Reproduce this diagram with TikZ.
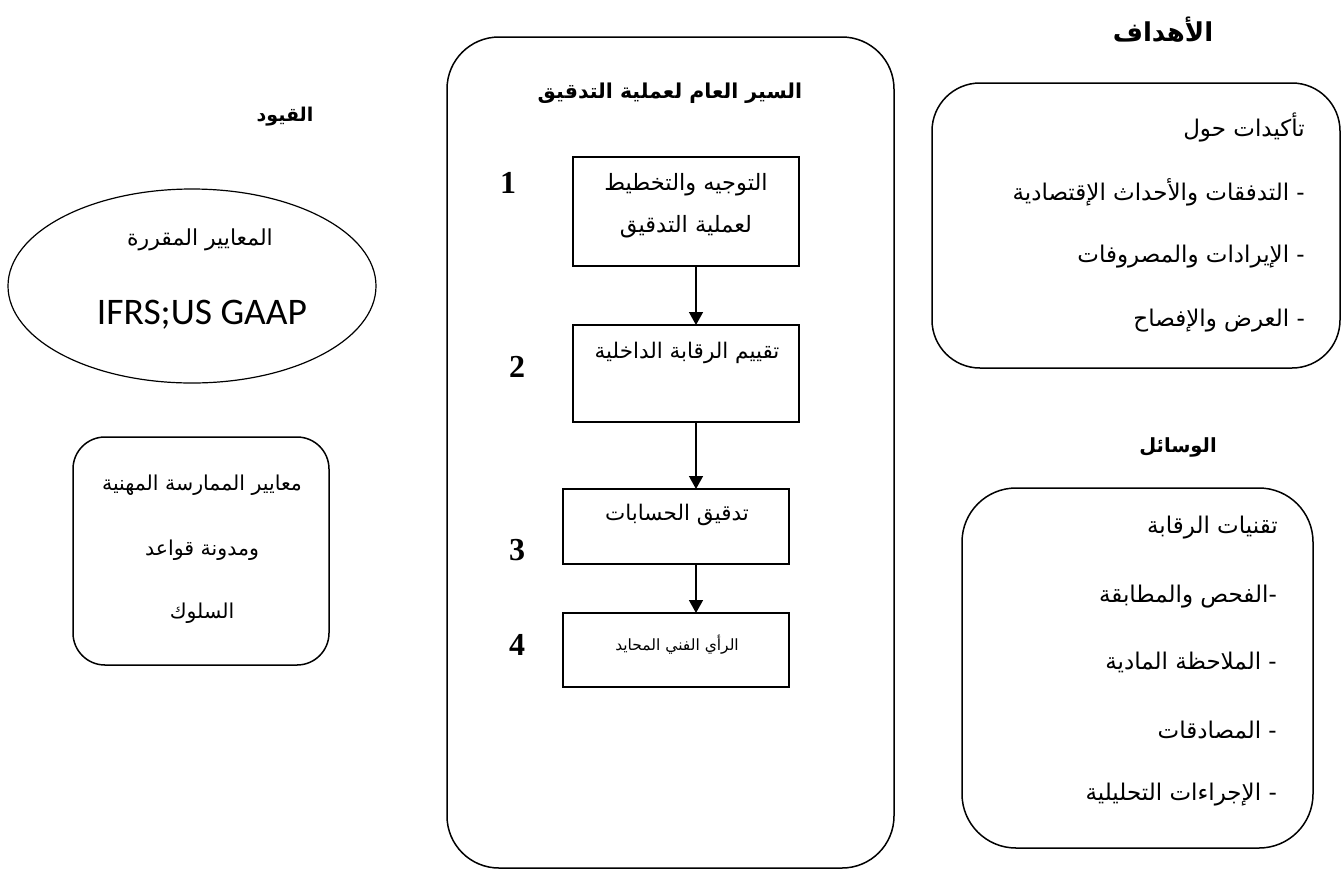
\documentclass[tikz,border=0pt]{standalone}
\usepackage{fontspec}
\setmainfont{Liberation Serif}
\newfontfamily\arabicfont[Script=Arabic]{DejaVu Sans}
\newfontfamily\calfont{Carlito}
\TeXXeTstate=1
\usetikzlibrary{arrows.meta,shapes.geometric}
\newcommand\AR[1]{{\arabicfont\beginR #1\endR}}
\newcommand\fsz[1]{\fontsize{#1}{#1}\selectfont}

\tikzset{
  x=1pt, y=-1pt,
  frame/.style={draw, line width=1.5pt, inner sep=0pt, outer sep=0pt},
  stepbox/.style={draw, line width=1.6pt, inner sep=0pt, outer sep=0pt, minimum width=226pt},
  flow/.style={line width=1.5pt, -{Triangle[width=14pt,length=13pt]}},
  head/.style={inner sep=0pt, font=\bfseries\fsz{#1}},
  body/.style={inner sep=0pt, font=\fsz{#1}},
  body/.default=23,
  num/.style={inner sep=0pt, font=\bfseries\fsz{32}},
}

\begin{document}
\begin{tikzpicture}
\useasboundingbox (0,0) rectangle (1344,871);

% central column: the audit process
\node[frame, rounded corners=52pt, minimum width=447pt, minimum height=831pt] (main) at (670.5,452.5) {};
\node[head=20.5] (mainT) at (670,93) {\AR{السير العام لعملية التدقيق}};

\node[stepbox, minimum height=109pt] (s1) at (686,211.5) {};
\node[stepbox, minimum height=97pt]  (s2) at (686,373.5) {};
\node[stepbox, minimum height=75pt]  (s3) at (676,526.5) {};
\node[stepbox, minimum height=74pt]  (s4) at (676,650) {};

\node[body=22.5] (s1a) at (686,185) {\AR{التوجيه والتخطيط}};
\node[body=22.5] (s1b) at (686,227) {\AR{لعملية التدقيق}};
\node[body=21.5] (s2a) at (687,353) {\AR{تقييم الرقابة الداخلية}};
\node[body=21.5] (s3a) at (677,515) {\AR{تدقيق الحسابات}};
\node[body=15.5] (s4a) at (677,645) {\AR{الرأي الفني المحايد}};

\node[num] (n1) at (508,183) {1};
\node[num] (n2) at (517,367) {2};
\node[num] (n3) at (517,550) {3};
\node[num] (n4) at (517,645) {4};

\coordinate (ax) at (696,0);
\draw[flow] (s1.south -| ax) -- (s2.north -| ax);
\draw[flow] (s2.south -| ax) -- (s3.north -| ax);
\draw[flow] (s3.south -| ax) -- (s4.north -| ax);

% right column: objectives and means
\node[head=26] (objT) at (1163,30) {\AR{الأهداف}};
\node[frame, rounded corners=48pt, minimum width=408pt, minimum height=285pt] (obj) at (1136,225.5) {};
\node[body, anchor=east] (o1) at (1305,127) {\AR{تأكيدات حول}};
\node[body, anchor=east] (o2) at (1305,192) {\AR{- التدفقات والأحداث الإقتصادية}};
\node[body, anchor=east] (o3) at (1305,257) {\AR{- الإيرادات والمصروفات}};
\node[body, anchor=east] (o4) at (1305,321) {\AR{- العرض والإفصاح}};

\node[head=19.5] (meaT) at (1178,447) {\AR{الوسائل}};
\node[frame, rounded corners=54pt, minimum width=351pt, minimum height=360pt] (mea) at (1137.5,668) {};
\node[body, anchor=east] (m1) at (1278,528) {\AR{تقنيات الرقابة}};
\node[body, anchor=east] (m2) at (1277,597) {\AR{-الفحص والمطابقة}};
\node[body, anchor=east] (m3) at (1277,662) {\AR{- الملاحظة المادية}};
\node[body, anchor=east] (m4) at (1277,730) {\AR{- المصادقات}};
\node[body, anchor=east] (m5) at (1277,795) {\AR{- الإجراءات التحليلية}};

% left column: constraints
\node[head=19] (conT) at (285,117) {\AR{القيود}};
\node[draw, ellipse, line width=1.2pt, inner sep=0pt, minimum width=368pt, minimum height=194pt] (std) at (192,286) {};
\node[body=22] (std1) at (200,240) {\AR{المعايير المقررة}};
\node[inner sep=0pt, font=\calfont\fsz{37.5}] (std2) at (202,315) {IFRS;US GAAP};

\node[frame, rounded corners=32pt, minimum width=256pt, minimum height=228pt] (eth) at (201,551) {};
\node[body=20.5] (eth1) at (202,485) {\AR{معايير الممارسة المهنية}};
\node[body=20.5] (eth2) at (202,550) {\AR{ومدونة قواعد}};
\node[body=20.5] (eth3) at (202,613) {\AR{السلوك}};
\end{tikzpicture}
\end{document}
